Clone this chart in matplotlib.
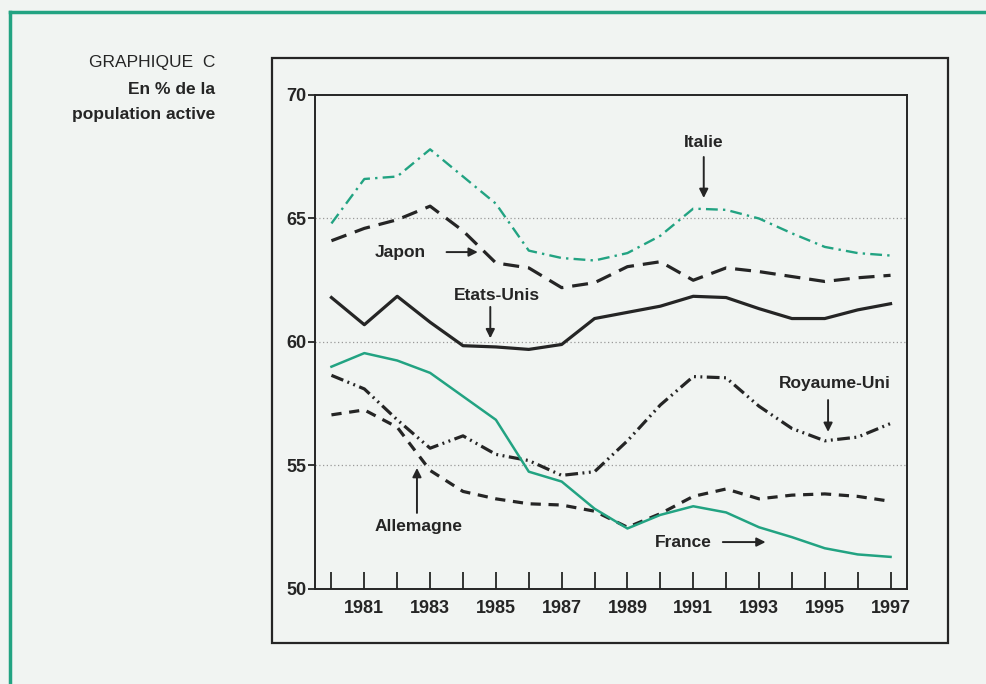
import matplotlib.pyplot as plt
from matplotlib.patches import Rectangle
from matplotlib.lines import Line2D

years = list(range(1980, 1998))

italie = [64.8, 66.6, 66.7, 67.8, 66.7, 65.6, 63.7, 63.4, 63.3, 63.6,
          64.3, 65.4, 65.35, 65.0, 64.4, 63.85, 63.6, 63.5]
japon = [64.1, 64.6, 64.95, 65.5, 64.5, 63.2, 63.0, 62.2, 62.4, 63.05,
         63.25, 62.5, 63.0, 62.85, 62.65, 62.45, 62.6, 62.7]
etats_unis = [61.8, 60.7, 61.85, 60.8, 59.85, 59.8, 59.7, 59.9, 60.95, 61.2,
              61.45, 61.85, 61.8, 61.35, 60.95, 60.95, 61.3, 61.55]
royaume_uni = [58.65, 58.1, 56.85, 55.7, 56.2, 55.45, 55.2, 54.6, 54.75, 56.0,
               57.45, 58.6, 58.55, 57.4, 56.5, 56.0, 56.15, 56.7]
allemagne = [57.05, 57.25, 56.55, 54.8, 53.95, 53.65, 53.45, 53.4, 53.15, 52.5,
             53.05, 53.75, 54.05, 53.65, 53.8, 53.85, 53.75, 53.55]
france = [59.0, 59.55, 59.25, 58.75, 57.8, 56.85, 54.75, 54.35, 53.25, 52.45,
          53.0, 53.35, 53.1, 52.5, 52.1, 51.65, 51.4, 51.3]

ytick_values = [50, 55, 60, 65, 70]
xtick_labels = [1981, 1983, 1985, 1987, 1989, 1991, 1993, 1995, 1997]

teal = "#22a382"
ink = "#252525"
paper = "#f1f4f2"
font = ["Liberation Sans", "DejaVu Sans"]

fig = plt.figure(figsize=(9.86, 6.84), dpi=100, facecolor=paper)

# page frame: green rule left/top, black box round the chart
fig.add_artist(Line2D([10 / 986, 10 / 986], [0, 1 - 12 / 684],
                      color=teal, lw=2.5, transform=fig.transFigure))
fig.add_artist(Line2D([10 / 986, 1], [1 - 12 / 684, 1 - 12 / 684],
                      color=teal, lw=2.5, transform=fig.transFigure))
fig.add_artist(Rectangle((272 / 986, 1 - 643 / 684), (948 - 272) / 986,
                         (643 - 58) / 684, fill=False, ec=ink, lw=1.6,
                         transform=fig.transFigure))

fig.text(215 / 986, 1 - 63 / 684, "GRAPHIQUE  C", ha="right", va="center",
         fontsize=12.5, family=font, color=ink)
fig.text(215 / 986, 1 - 89 / 684, "En % de la", ha="right", va="center",
         fontsize=12.5, family=font, weight="bold", color=ink)
fig.text(215 / 986, 1 - 115 / 684, "population active", ha="right", va="center",
         fontsize=12.5, family=font, weight="bold", color=ink)

ax = fig.add_axes([315 / 986, 1 - 589 / 684, (907 - 315) / 986, (589 - 95) / 684])
ax.set_facecolor(paper)

ax.plot(years, italie, color=teal, lw=1.7, linestyle=(0, (5, 2.2, 1, 2.2)))
ax.plot(years, japon, color=ink, lw=2.3, linestyle=(0, (5, 2.8)))
ax.plot(years, etats_unis, color=ink, lw=2.3)
ax.plot(years, royaume_uni, color=ink, lw=2.3,
        linestyle=(0, (4, 1.4, 0.6, 1.4, 0.6, 1.4)))
ax.plot(years, allemagne, color=ink, lw=2.3, linestyle=(0, (3.2, 2.4)))
ax.plot(years, france, color=teal, lw=1.8)

ax.set_xlim(1979.5, 1997.5)
ax.set_ylim(50, 70)
ax.set_yticks(ytick_values)
ax.set_xticks(years, minor=True)
ax.set_xticks(xtick_labels)
ax.tick_params(axis="x", which="both", direction="in", length=12, width=1.3,
               color=ink, pad=8)
ax.tick_params(axis="y", direction="out", length=5, width=1.3, color=ink, pad=1)
for lab in ax.get_xticklabels() + ax.get_yticklabels():
    lab.set_family(font)
    lab.set_fontsize(13)
    lab.set_weight("bold")
    lab.set_color(ink)
for s in ax.spines.values():
    s.set_color(ink)
    s.set_linewidth(1.4)
for v in [55, 60, 65]:
    ax.axhline(v, color="#9a9a9a", lw=0.9, linestyle=(0, (1, 2)), zorder=0)

arrow = dict(arrowstyle="-|>", color=ink, lw=1.4, mutation_scale=13,
             shrinkA=0, shrinkB=0)
labels = [
    ("Japon", (1982.08, 63.64), (1983.5, 63.64), (1984.45, 63.64)),
    ("Etats-Unis", (1985.04, 61.9), (1984.83, 61.42), (1984.83, 60.15)),
    ("Italie", (1991.32, 68.06), (1991.32, 67.49), (1991.32, 65.83)),
    ("Royaume-Uni", (1995.29, 58.34), (1995.1, 57.65), (1995.1, 56.36)),
    ("France", (1990.71, 51.9), (1991.9, 51.9), (1993.2, 51.9)),
    ("Allemagne", (1982.66, 52.55), (1982.6, 53.08), (1982.6, 54.9)),
]
for name, pos, start, tip in labels:
    ax.text(pos[0], pos[1], name, ha="center", va="center", fontsize=12.5,
            weight="bold", family=font, color=ink)
    ax.annotate("", xy=tip, xytext=start, arrowprops=arrow)

plt.savefig("out.png", dpi=100, facecolor=paper)
